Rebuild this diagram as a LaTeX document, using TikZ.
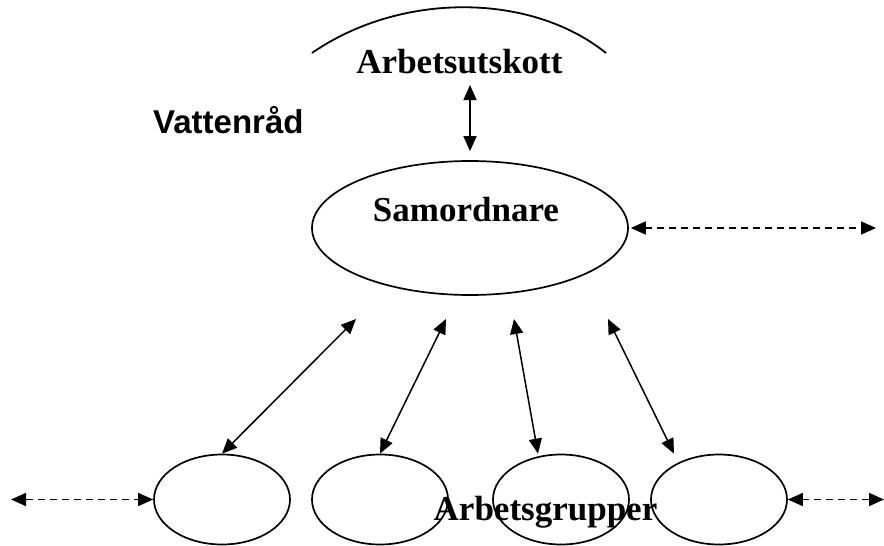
\documentclass[tikz,border=0pt]{standalone}
\usepackage{fontspec}
\setmainfont{Liberation Serif}
\newfontfamily\arialfont{Liberation Sans}
\usetikzlibrary{arrows.meta, shapes.geometric, positioning}
\tikzset{
  grp/.style={draw, ellipse, line width=1.7pt, minimum width=136pt, minimum height=90pt, inner sep=0pt},
  lbl/.style={anchor=base, inner sep=0pt, font=\fontsize{35}{40}\selectfont\bfseries},
  dbl/.style={{Triangle[length=15pt,width=13pt]}-{Triangle[length=15pt,width=13pt]}, line width=1.5pt},
  dsh/.style={dbl, line width=1.7pt, dash pattern=on 7pt off 5pt},
}

\begin{document}
\begin{tikzpicture}[x=1pt, y=-1pt]
    \useasboundingbox (0,0) rectangle (884,546);
    \draw[line width=1.8pt] (312,53) .. controls (400,-8) and (530,-8) .. (606,53);
    \node[lbl] (aus) at (459.5,73) {Arbetsutskott};
    \node[lbl, anchor=base west, font=\fontsize{33}{40}\selectfont\bfseries\arialfont] (vr) at (153,133) {Vattenråd};
    \node[grp, minimum width=316pt, minimum height=134pt] (sam) at (470,228) {};
    \node[lbl] (samtxt) at (466,221) {Samordnare};
    \coordinate (autop) at (470,85);
    \draw[dbl] (autop) -- ([yshift=9pt]sam.north);
    \coordinate (re) at (876,228);
    \draw[dsh] ([xshift=2pt]sam.east) -- (re);
    % arbetsgrupper
    \node[grp] (g1) at (222,499.5) {};
    \node[grp] (g2) at (380,499.5) {};
    \node[grp] (g3) at (561,499.5) {};
    \node[grp] (g4) at (719,499.5) {};
    \node[lbl] (ag) at (545.5,520) {Arbetsgrupper};
    \coordinate (s1) at (356,319);
    \coordinate (s2) at (446,319);
    \coordinate (s3) at (514,319);
    \coordinate (s4) at (608,319);
    \draw[dbl] (s1) -- (g1.north);
    \draw[dbl] (s2) -- (g2.north);
    \draw[dbl] (s3) -- ([xshift=-23pt]g3.north);
    \draw[dbl] (s4) -- ([xshift=-45pt]g4.north);
    \coordinate (le) at (11,499.5);
    \coordinate (rr) at (884,499.5);
    \draw[dsh] (le) -- (g1.west);
    \draw[dsh] (g4.east) -- (rr);
\end{tikzpicture}
\end{document}
